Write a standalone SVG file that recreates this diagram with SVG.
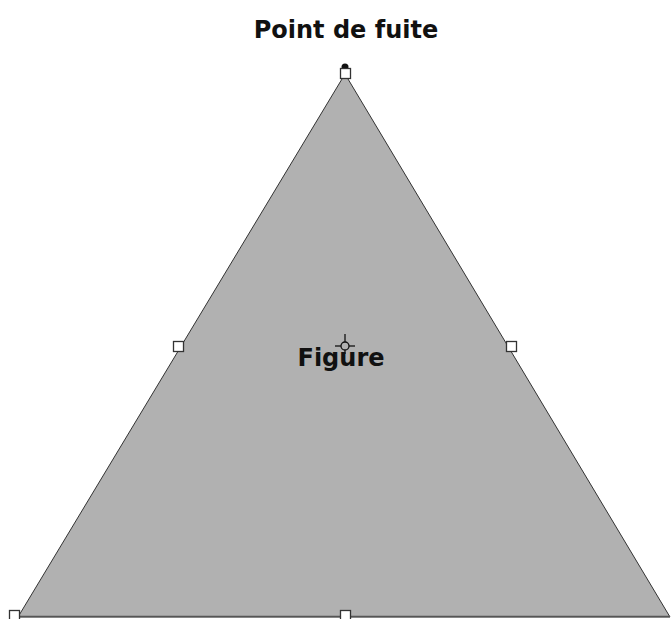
<svg xmlns="http://www.w3.org/2000/svg" width="672" height="619" viewBox="0 0 672 619">
<style>
.t{font-family:"DejaVu Sans",Verdana,sans-serif;font-weight:bold;fill:#111;text-anchor:middle;font-size:24px}
.h{fill:#fff;stroke:#333;stroke-width:1.3}
</style>
<rect width="672" height="619" fill="#fff"/>
<g id="figure">
<polygon points="345,74 18,617 670,617" fill="#b1b1b1" stroke="#333" stroke-width="1"/>
<line x1="18" y1="616.5" x2="670" y2="616.5" stroke="#555" stroke-width="1.5"/>
<text class="t" x="341" y="366">Figure</text>
</g>
<g id="handles">
<circle cx="345" cy="67" r="3.5" fill="#111"/>
<rect class="h" x="340.5" y="68.5" width="10" height="10"/>
<rect class="h" x="173.5" y="341.5" width="10" height="10"/>
<rect class="h" x="506.5" y="341.5" width="10" height="10"/>
<rect class="h" x="340.5" y="610.5" width="10" height="10"/>
<rect class="h" x="9.5" y="610.5" width="10" height="10"/>
<g id="center" stroke="#111" stroke-width="1.3" fill="none">
<circle cx="345" cy="346" r="4"/>
<line x1="345" y1="334" x2="345" y2="342"/>
<line x1="335" y1="346" x2="341" y2="346"/>
<line x1="349" y1="346" x2="355" y2="346"/>
<line x1="345" y1="350" x2="345" y2="354"/>
</g>
</g>
<g id="vanishing-point">
<text class="t" x="346" y="38">Point de fuite</text>
</g>
</svg>
